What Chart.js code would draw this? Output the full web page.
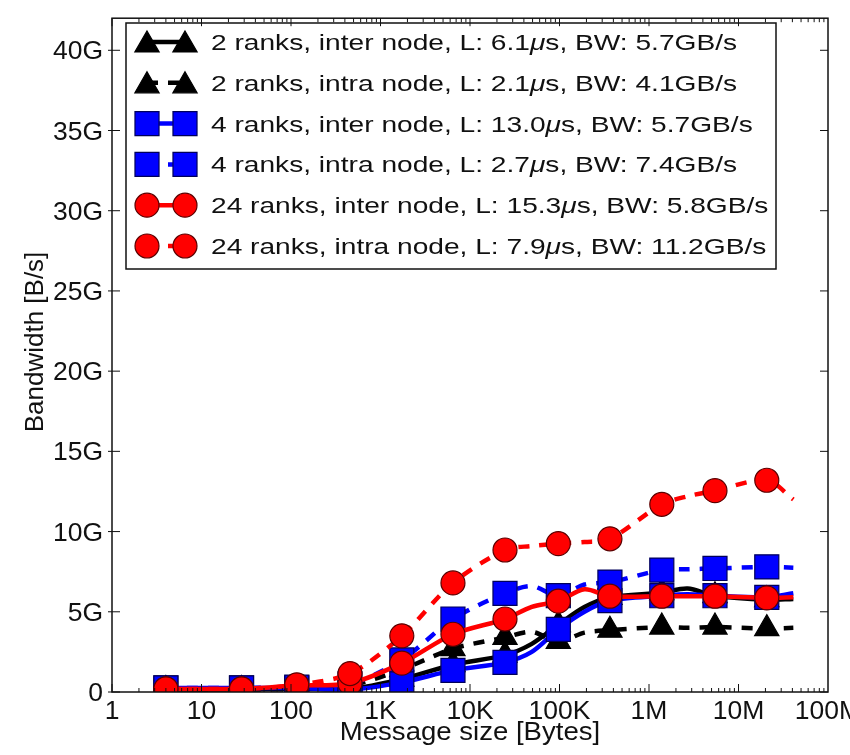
<!DOCTYPE html>
<html>
<head>
<meta charset="utf-8">
<script src="https://cdn.jsdelivr.net/npm/chart.js@4.4.0/dist/chart.umd.min.js"></script>
<style>
  html, body { margin: 0; padding: 0; background: #fff; overflow: hidden; }
  #wrap { width: 850px; height: 755px; position: relative; }
</style>
</head>
<body>
<div id="wrap"><canvas id="bwChart" width="850" height="755"></canvas></div>
<script>
// message sizes in bytes
const msgSizes = [4, 28, 116, 456, 1730, 6450, 24600, 49000, 97000, 190000, 366000, 1390000, 2700000, 5460000, 20700000, 41000000];
// 1 = a marker is drawn at that size
const markerAt = [1, 1, 1, 1, 1, 1, 1, 0, 1, 0, 1, 1, 0, 1, 1, 0];

// bandwidth in G (1e9 B/s)
const inter2 = [0.15, 0.15, 0.2, 0.2, 0.8, 1.7, 2.3, 3.0, 4.2, 5.3, 5.9, 6.2, 6.45, 6.0, 5.75, 5.8];
const intra2 = [0.15, 0.15, 0.2, 0.4, 1.4, 2.7, 3.4, 3.75, 3.15, 3.7, 3.85, 4.05, 4.0, 4.05, 3.95, 4.0];
const inter4 = [0.25, 0.25, 0.25, 0.15, 0.6, 1.35, 1.85, 2.5, 3.9, 5.0, 5.7, 6.0, 6.1, 6.0, 5.9, 6.15];
const intra4 = [0.25, 0.25, 0.3, 0.5, 2.0, 4.55, 6.15, 6.6, 6.0, 6.7, 6.85, 7.6, 7.65, 7.7, 7.8, 7.75];
const inter24 = [0.2, 0.2, 0.4, 0.55, 1.8, 3.6, 4.55, 5.3, 5.66, 6.4, 5.97, 5.97, 5.97, 5.97, 5.87, 5.9];
const intra24 = [0.2, 0.2, 0.45, 1.15, 3.5, 6.8, 8.85, 9.1, 9.25, 9.35, 9.55, 11.7, 12.2, 12.55, 13.2, 12.0];

const seriesLabels = [
  "2 ranks, inter node, L: 6.1μs, BW: 5.7GB/s",
  "2 ranks, intra node, L: 2.1μs, BW: 4.1GB/s",
  "4 ranks, inter node, L: 13.0μs, BW: 5.7GB/s",
  "4 ranks, intra node, L: 2.7μs, BW: 7.4GB/s",
  "24 ranks, inter node, L: 15.3μs, BW: 5.8GB/s",
  "24 ranks, intra node, L: 7.9μs, BW: 11.2GB/s",
];

const xTicks = [1, 10, 100, 1e3, 1e4, 1e5, 1e6, 1e7, 1e8];
const xTickLabels = ["1", "10", "100", "1K", "10K", "100K", "1M", "10M", "100M"];
const yTicks = [0, 5, 10, 15, 20, 25, 30, 35, 40];
const yTickLabels = ["0", "5G", "10G", "15G", "20G", "25G", "30G", "35G", "40G"];

const FONT = '"Liberation Sans", Arial, sans-serif';
const RED = "#ff0000", BLUE = "#0000ff", BLACK = "#000000";

function makeSet(i, values, color, edge, style, radius, dash) {
  return {
    label: seriesLabels[i],
    data: msgSizes.map((x, k) => ({ x: x, y: values[k] })),
    borderColor: color,
    borderWidth: 4.5,
    borderDash: dash,
    pointStyle: style,
    pointRadius: markerAt.map((m) => (m ? radius : 0)),
    pointHoverRadius: markerAt.map((m) => (m ? radius : 0)),
    pointBackgroundColor: color,
    pointBorderColor: edge,
    pointBorderWidth: 1.2,
    tension: 0.3,
    clip: 0,
    order: 5 - i,
  };
}

const datasets = [
  makeSet(0, inter2, BLACK, BLACK, "triangle", 14, []),
  makeSet(1, intra2, BLACK, BLACK, "triangle", 14, [11, 10]),
  makeSet(2, inter4, BLUE, "#00005a", "rect", 17, []),
  makeSet(3, intra4, BLUE, "#00005a", "rect", 17, [11, 10]),
  makeSet(4, inter24, RED, "#5a0000", "circle", 12, []),
  makeSet(5, intra24, RED, "#5a0000", "circle", 12, [11, 10]),
];

// text stretched horizontally to follow the reference lettering
function sText(ctx, str, x, y, sx, align) {
  ctx.save();
  ctx.translate(x, y);
  ctx.scale(sx, 1);
  ctx.textAlign = align;
  ctx.fillText(str, 0, 0);
  ctx.restore();
  return ctx.measureText(str).width * sx;
}

// axes frame, inward ticks, labels and the boxed legend
const decor = {
  id: "decor",
  afterDatasetsDraw(chart) {
    const { ctx, chartArea: a, scales } = chart;
    const xs = scales.x, ys = scales.y;
    ctx.save();

    // legend
    const lx = 126, ly = 23, lw = 650, lh = 246;
    ctx.fillStyle = "#fff";
    ctx.fillRect(lx, ly, lw, lh);
    ctx.strokeStyle = "#111";
    ctx.lineWidth = 1.5;
    ctx.strokeRect(lx, ly, lw, lh);
    chart.data.datasets.forEach((ds, i) => {
      const ry = 42 + i * 40.8;
      ctx.save();
      ctx.strokeStyle = ds.borderColor;
      ctx.lineWidth = ds.borderWidth;
      ctx.setLineDash(ds.borderDash);
      ctx.beginPath();
      ctx.moveTo(147, ry);
      ctx.lineTo(185, ry);
      ctx.stroke();
      ctx.restore();
      const r = ds.pointRadius[0];
      [147, 185].forEach((px) => {
        ctx.fillStyle = ds.pointBackgroundColor;
        ctx.strokeStyle = ds.pointBorderColor;
        ctx.lineWidth = ds.pointBorderWidth;
        Chart.helpers.drawPoint(ctx, { pointStyle: ds.pointStyle, radius: r, rotation: 0, borderWidth: ds.pointBorderWidth }, px, ds.pointStyle === "triangle" ? ry + 3 : ry);
      });
      ctx.fillStyle = "#111";
      ctx.textBaseline = "alphabetic";
      let cx = 211;
      ds.label.split("μ").forEach((part, k) => {
        if (k > 0) {
          ctx.font = "italic 22.5px " + FONT;
          cx += sText(ctx, "μ", cx, ry + 8, 1.25, "left");
        }
        ctx.font = "22.5px " + FONT;
        cx += sText(ctx, part, cx, ry + 8, 1.25, "left");
      });
    });

    // frame
    ctx.strokeStyle = "#111";
    ctx.lineWidth = 1.5;
    ctx.strokeRect(a.left, a.top, a.right - a.left, a.bottom - a.top);

    // x ticks top and bottom, y ticks left and right
    ctx.lineWidth = 1;
    ctx.beginPath();
    for (let d = 0; d < 8; d++) {
      for (let k = 1; k <= 9; k++) {
        const v = k * Math.pow(10, d);
        const px = xs.getPixelForValue(v);
        const len = k === 1 ? 8 : 4;
        ctx.moveTo(px, a.bottom); ctx.lineTo(px, a.bottom - len);
        ctx.moveTo(px, a.top); ctx.lineTo(px, a.top + len);
      }
    }
    yTicks.forEach((v) => {
      const py = ys.getPixelForValue(v);
      ctx.moveTo(a.left - 4, py); ctx.lineTo(a.left + 8, py);
      ctx.moveTo(a.right, py); ctx.lineTo(a.right - 8, py);
    });
    ctx.stroke();

    // tick labels
    ctx.fillStyle = "#111";
    ctx.font = "25px " + FONT;
    ctx.textBaseline = "alphabetic";
    xTicks.forEach((v, i) => {
      sText(ctx, xTickLabels[i], xs.getPixelForValue(v), 719, 1.06, "center");
    });
    yTicks.forEach((v, i) => {
      sText(ctx, yTickLabels[i], 103, ys.getPixelForValue(v) + 9, 1.06, "right");
    });

    // axis titles
    ctx.font = "26px " + FONT;
    sText(ctx, "Message size [Bytes]", 470, 740, 1.06, "center");
    ctx.save();
    ctx.translate(43, 342);
    ctx.rotate(-Math.PI / 2);
    ctx.textAlign = "center";
    ctx.fillText("Bandwidth [B/s]", 0, 0);
    ctx.restore();

    ctx.restore();
  },
};

new Chart(document.getElementById("bwChart"), {
  type: "line",
  data: { datasets },
  options: {
    responsive: false,
    animation: false,
    events: [],
    layout: { padding: { left: 112, right: 22, top: 10, bottom: 63 } },
    plugins: { legend: { display: false }, tooltip: { enabled: false } },
    scales: {
      x: { type: "logarithmic", min: 1, max: 1e8, display: false },
      y: { type: "linear", min: 0, max: 42, display: false },
    },
  },
  plugins: [decor],
});
</script>
</body>
</html>
